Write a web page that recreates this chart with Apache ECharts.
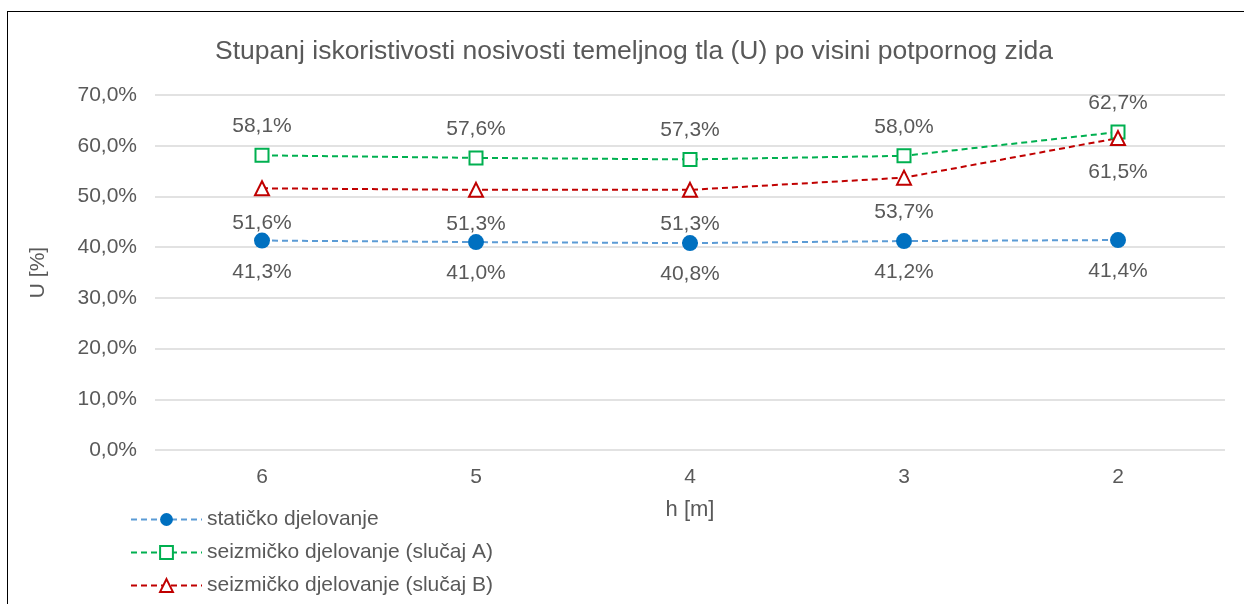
<!DOCTYPE html>
<html>
<head>
    <meta charset="utf-8">
    <title>ECharts</title>
    <script src="https://cdn.jsdelivr.net/npm/echarts@6/dist/echarts.min.js"></script>
    <style>
        html, body { margin: 0; padding: 0; background: #fff; }
        #frame { position: absolute; left: 7px; top: 11px; width: 1260px; height: 620px; border: 1.5px solid #000; box-sizing: border-box; }
        #main { position: absolute; left: 0; top: 0; width: 1244px; height: 604px; }
    </style>
</head>
<body>
<div id="frame"></div>
<div id="main"></div>
<script type="text/javascript">
    // chart data
    var categories = ['6', '5', '4', '3', '2'];
    var staticValues = [41.3, 41.0, 40.8, 41.2, 41.4];
    var caseAValues = [58.1, 57.6, 57.3, 58.0, 62.7];
    var caseBValues = [51.6, 51.3, 51.3, 53.7, 61.5];
    var seriesNames = ['statičko djelovanje', 'seizmičko djelovanje (slučaj A)', 'seizmičko djelovanje (slučaj B)'];

    var font = 'Arial, "Liberation Sans", sans-serif';
    var textColor = '#595959';

    function pct(v) {
        return v.toFixed(1).replace('.', ',') + '%';
    }

    function labelStyle(pos, dist) {
        return {
            show: true,
            position: pos,
            distance: dist,
            color: textColor,
            fontFamily: font,
            fontSize: 21,
            formatter: function (p) { return pct(p.value); }
        };
    }

    var chart = echarts.init(document.getElementById('main'), null, { renderer: 'canvas' });
    var option = {
        animation: false,
        backgroundColor: 'transparent',
        title: {
            text: 'Stupanj iskoristivosti nosivosti temeljnog tla (U) po visini potpornog zida',
            left: 210,
            top: 33,
            textStyle: { color: textColor, fontFamily: font, fontSize: 26.5, fontWeight: 'normal' }
        },
        legend: {
            orient: 'vertical',
            left: 130,
            top: 509,
            padding: 0,
            itemWidth: 71,
            itemHeight: 16,
            itemGap: 12,
            data: seriesNames,
            textStyle: { color: textColor, fontFamily: font, fontSize: 21 }
        },
        grid: { left: 155, right: 19, top: 95, bottom: 154, containLabel: false },
        xAxis: {
            type: 'category',
            data: categories,
            name: 'h [m]',
            nameLocation: 'middle',
            nameGap: 49,
            nameTextStyle: { color: textColor, fontFamily: font, fontSize: 22 },
            axisLine: { show: false },
            axisTick: { show: false },
            axisLabel: { color: textColor, fontFamily: font, fontSize: 21, margin: 17 }
        },
        yAxis: {
            type: 'value',
            min: 0,
            max: 70,
            interval: 10,
            name: 'U [%]',
            nameLocation: 'middle',
            nameGap: 106,
            nameTextStyle: { color: textColor, fontFamily: font, fontSize: 21 },
            axisLine: { show: false },
            axisTick: { show: false },
            axisLabel: { color: textColor, fontFamily: font, fontSize: 21, margin: 18, formatter: function (v) { return pct(v); } },
            splitLine: { lineStyle: { color: '#d9d9d9', width: 1.5 } }
        },
        series: [
            {
                name: seriesNames[0],
                type: 'line',
                data: staticValues,
                symbol: 'circle',
                symbolSize: 16,
                itemStyle: { color: '#0070C0' },
                lineStyle: { color: '#5B9BD5', width: 2, type: [6, 4] },
                label: labelStyle('bottom', 13)
            },
            {
                name: seriesNames[1],
                type: 'line',
                data: caseAValues,
                symbol: 'rect',
                symbolSize: 13,
                itemStyle: { color: '#fff', borderColor: '#00B050', borderWidth: 2 },
                lineStyle: { color: '#00B050', width: 2, type: [6, 4] },
                label: labelStyle('top', 11)
            },
            {
                name: seriesNames[2],
                type: 'line',
                data: caseBValues,
                symbol: 'triangle',
                symbolSize: 14,
                itemStyle: { color: '#fff', borderColor: '#C00000', borderWidth: 2 },
                lineStyle: { color: '#C00000', width: 2, type: [6, 4] },
                label: labelStyle('bottom', 16)
            }
        ]
    };
    chart.setOption(option);
</script>
</body>
</html>
